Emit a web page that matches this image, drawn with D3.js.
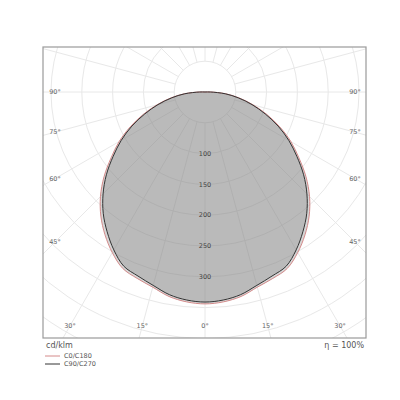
<!DOCTYPE html>
<html>
<head>
<meta charset="utf-8">
<script src="https://cdn.jsdelivr.net/npm/d3@7"></script>
<style>
  body { margin: 0; background: #fff; }
  text { font-family: "DejaVu Sans", sans-serif; fill: #555; }
</style>
</head>
<body>
<svg id="chart" width="400" height="400"></svg>
<script>
// gamma angles (deg, 0 = straight down) and intensities in cd/klm
const gammas = [0, 5, 10, 15, 20, 25, 30, 35, 40, 45, 50, 55, 60, 65, 70, 75, 80, 85, 90, 180];
const c0c180 = [344, 342, 337, 328, 322, 316, 301, 283, 263, 240, 214, 186, 161, 134, 107, 81, 57, 34, 10, 0];
const c90c270 = [341, 339, 334, 325, 318, 312, 296, 277, 257, 234, 209, 182, 157, 131, 104, 79, 55, 33, 9, 0];
const ringTicks = [100, 150, 200, 250, 300];
const angleTicks = [0, 15, 30, 45, 60, 75, 90];
const seriesNames = ["C0/C180", "C90/C270"];

const svg = d3.select("#chart");
const frame = {x0: 43, y0: 47, x1: 366, y1: 338};
const cx = 205, cy = 92;
const r = d3.scaleLinear().domain([0, 100]).range([0, 61.6]);
const rad = d => d * Math.PI / 180;

svg.append("defs").append("clipPath").attr("id", "frameClip")
  .append("rect")
  .attr("x", frame.x0).attr("y", frame.y0)
  .attr("width", frame.x1 - frame.x0).attr("height", frame.y1 - frame.y0);

const g = svg.append("g").attr("clip-path", "url(#frameClip)");
const polar = g.append("g").attr("transform", `translate(${cx},${cy})`);

// grid circles
polar.selectAll(".ring")
  .data(d3.range(50, 551, 50)).enter()
  .append("circle")
  .attr("r", d => r(d))
  .attr("fill", "none")
  .attr("stroke", "#e8e8e8")
  .attr("stroke-width", 1);

// spokes every 15 degrees
polar.selectAll(".spoke")
  .data(d3.range(0, 360, 15)).enter()
  .append("line")
  .attr("x1", d => r(50) * Math.sin(rad(d)))
  .attr("y1", d => r(50) * Math.cos(rad(d)))
  .attr("x2", d => r(600) * Math.sin(rad(d)))
  .attr("y2", d => r(600) * Math.cos(rad(d)))
  .attr("stroke", "#e8e8e8")
  .attr("stroke-width", 1);

// build closed curve: left half (C180 / C270) then right half (C0 / C90)
function curvePoints(values) {
  const pts = [];
  for (let i = gammas.length - 1; i >= 0; i--) pts.push([Math.PI + rad(gammas[i]), r(values[i])]);
  for (let i = 1; i < gammas.length - 1; i++) pts.push([Math.PI - rad(gammas[i]), r(values[i])]);
  return pts;
}
const radial = d3.lineRadial()
  .angle(d => d[0]).radius(d => d[1])
  .curve(d3.curveCatmullRomClosed.alpha(0.5));

const series = [
  {values: c0c180, color: "#d48a8a"},
  {values: c90c270, color: "#333"}
];

polar.selectAll(".fill")
  .data(series).enter()
  .append("path")
  .attr("d", d => radial(curvePoints(d.values)))
  .attr("fill", "rgb(132,132,132)")
  .attr("fill-opacity", 0.33)
  .attr("stroke", "none");

polar.selectAll(".outline")
  .data(series).enter()
  .append("path")
  .attr("d", d => radial(curvePoints(d.values)))
  .attr("fill", "none")
  .attr("stroke", d => d.color)
  .attr("stroke-width", 1);

// ring labels
polar.selectAll(".ringLabel")
  .data(ringTicks).enter()
  .append("text")
  .attr("x", 0)
  .attr("y", d => r(d))
  .attr("dy", "0.35em")
  .attr("text-anchor", "middle")
  .style("font-size", "6.5px")
  .style("fill", "#444")
  .text(d => d);

// angle labels on an inner rectangle
const inner = {left: 55 - cx, right: 355 - cx, bottom: 326 - cy};
const angleLabels = [];
angleTicks.forEach(a => {
  const s = Math.sin(rad(a)), c = Math.cos(rad(a));
  let t = c > 1e-6 ? inner.bottom / c : Infinity;
  if (s > 1e-6) t = Math.min(t, inner.right / s);
  angleLabels.push({a: a, x: t * s, y: t * c});
  if (a > 0) angleLabels.push({a: a, x: -t * s, y: t * c});
});
svg.append("g").attr("transform", `translate(${cx},${cy})`)
  .selectAll("text")
  .data(angleLabels).enter()
  .append("text")
  .attr("x", d => d.x)
  .attr("y", d => d.y)
  .attr("dy", "0.35em")
  .attr("text-anchor", "middle")
  .style("font-size", "6.5px")
  .style("fill", "#666")
  .text(d => d.a + "°");

// frame
svg.append("rect")
  .attr("x", frame.x0).attr("y", frame.y0)
  .attr("width", frame.x1 - frame.x0).attr("height", frame.y1 - frame.y0)
  .attr("fill", "none")
  .attr("stroke", "#9a9a9a")
  .attr("stroke-width", 1.2);

svg.append("text")
  .attr("x", 46).attr("y", 348)
  .style("font-size", "8px")
  .text("cd/klm");

svg.append("text")
  .attr("x", 364).attr("y", 348)
  .attr("text-anchor", "end")
  .style("font-size", "8px")
  .text("η = 100%");

// legend
const legend = svg.append("g");
const legY = d3.scalePoint().domain(seriesNames).range([356, 364]);
legend.selectAll("line")
  .data(series).enter()
  .append("line")
  .attr("x1", 45).attr("x2", 60)
  .attr("y1", (d, i) => legY(seriesNames[i]))
  .attr("y2", (d, i) => legY(seriesNames[i]))
  .attr("stroke", d => d.color)
  .attr("stroke-width", 1);
legend.selectAll("text")
  .data(seriesNames).enter()
  .append("text")
  .attr("x", 64)
  .attr("y", d => legY(d))
  .attr("dy", "0.35em")
  .style("font-size", "6.5px")
  .text(d => d);
</script>
</body>
</html>
